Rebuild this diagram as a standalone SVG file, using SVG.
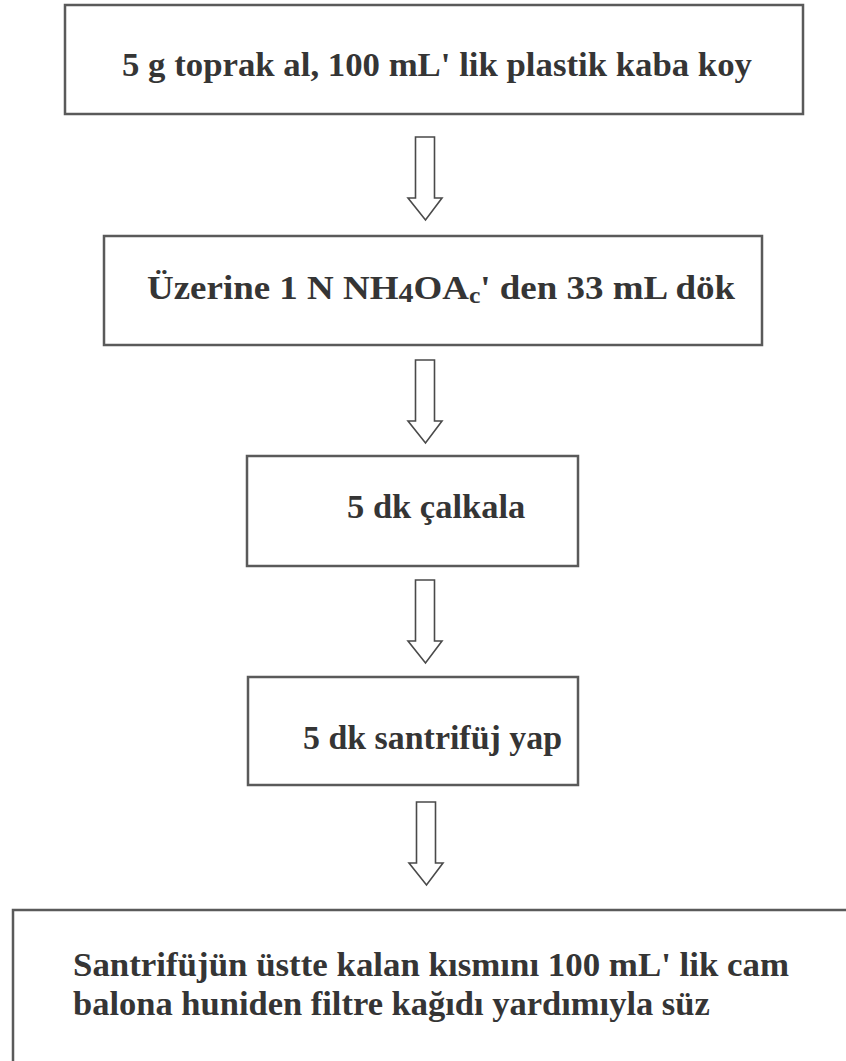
<svg xmlns="http://www.w3.org/2000/svg" width="846" height="1061" viewBox="0 0 846 1061">
<style>
.box{fill:#ffffff;stroke:#5a5a5a;stroke-width:2.5}
.arr{fill:#ffffff;stroke:#4a4a4a;stroke-width:1.6;stroke-linejoin:miter}
.t{font-family:"Liberation Serif","Times New Roman",serif;font-weight:bold;font-size:34.5px;fill:#353535}
</style>
<defs>
<path id="arrow" d="M-9.5,0 H9.5 V61 H17 L0.5,83 L-17,61 H-9.5 Z"/>
</defs>
<rect x="0" y="0" width="846" height="1061" fill="#ffffff"/>
<g id="connectors">
<use href="#arrow" class="arr" x="425" y="137"/>
<use href="#arrow" class="arr" x="425" y="360"/>
<use href="#arrow" class="arr" x="425" y="580"/>
<use href="#arrow" class="arr" x="426" y="802"/>
</g>
<g id="n1">
<rect class="box" x="65" y="5" width="738" height="109"/>
<text class="t" x="122" y="76" textLength="630" lengthAdjust="spacingAndGlyphs">5 g toprak al, 100 mL' lik plastik kaba koy</text>
</g>
<g id="n2">
<rect class="box" x="104" y="236" width="658" height="109"/>
<text class="t" x="147" y="299" textLength="588" lengthAdjust="spacingAndGlyphs">Üzerine 1 N NH<tspan font-size="28px" dy="3">4</tspan><tspan dy="-3">OA</tspan><tspan font-size="24px" dy="4">c</tspan><tspan dy="-4">' den 33 mL dök</tspan></text>
</g>
<g id="n3">
<rect class="box" x="247" y="456" width="331" height="110"/>
<text class="t" x="347" y="518">5 dk çalkala</text>
</g>
<g id="n4">
<rect class="box" x="248" y="677" width="330" height="108"/>
<text class="t" x="303" y="749" textLength="259" lengthAdjust="spacingAndGlyphs">5 dk santrifüj yap</text>
</g>
<g id="n5">
<rect class="box" x="13" y="910" width="850" height="160"/>
<text class="t" x="73" y="976" textLength="716" lengthAdjust="spacingAndGlyphs">Santrifüjün üstte kalan kısmını 100 mL' lik cam</text>
<text class="t" x="73" y="1015">balona huniden filtre kağıdı yardımıyla süz</text>
</g>
</svg>
